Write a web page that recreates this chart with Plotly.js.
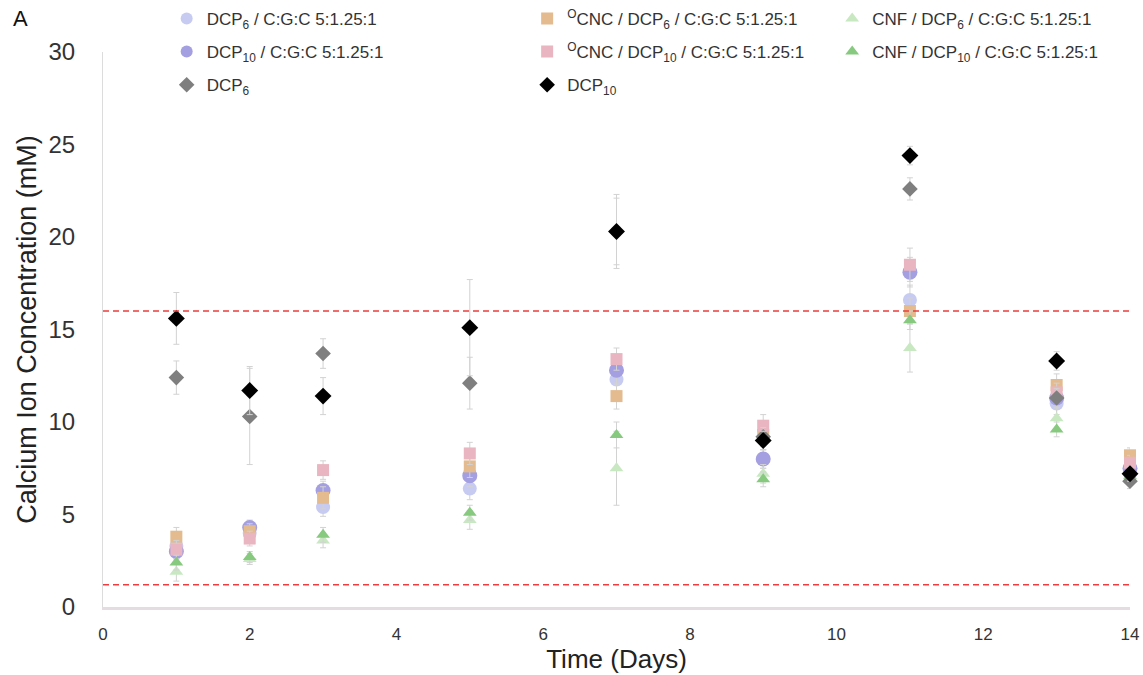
<!DOCTYPE html>
<html>
<head>
<meta charset="utf-8">
<script src="https://cdn.plot.ly/plotly-3.0.1.min.js"></script>
<style>html,body{margin:0;padding:0;background:#fff;}#chart{width:1143px;height:675px;}</style>
</head>
<body>
<div id="chart"></div>
<script>
// ---- data ----
const days = [1, 2, 3, 5, 7, 9, 11, 13, 14];

const dcp6_cgc      = [3.3, 4.0, 5.4, 6.4, 12.3, 8.0, 16.6, 11.0, 7.2];
const dcp6_cgc_err  = [0.5, 0.4, 0.5, 0.6, 1.0, 0.5, 0.8, 0.6, 0.5];

const dcp10_cgc     = [3.0, 4.3, 6.3, 7.1, 12.8, 8.0, 18.1, 11.3, 7.5];
const dcp10_cgc_err = [0.4, 0.4, 0.5, 0.6, 0.8, 0.5, 0.8, 0.6, 0.4];

const ocnc_dcp6     = [3.8, 4.1, 5.9, 7.6, 11.4, 9.3, 16.0, 12.0, 8.2];
const ocnc_dcp6_err = [0.5, 0.4, 0.6, 0.6, 0.7, 0.5, 0.7, 0.6, 0.4];

const ocnc_dcp10     = [3.1, 3.7, 7.4, 8.3, 13.4, 9.8, 18.5, 11.6, 7.8];
const ocnc_dcp10_err = [0.5, 0.4, 0.5, 0.6, 0.6, 0.6, 0.9, 0.5, 0.4];

const cnf_dcp6      = [1.9, 2.6, 3.6, 4.7, 7.5, 7.2, 14.0, 10.2, 7.0];
const cnf_dcp6_err  = [0.5, 0.3, 0.4, 0.5, 2.0, 0.5, 1.3, 0.6, 0.4];

const cnf_dcp10     = [2.4, 2.7, 3.9, 5.1, 9.3, 6.9, 15.5, 9.6, 7.1];
const cnf_dcp10_err = [0.4, 0.3, 0.4, 0.4, 0.7, 0.4, 0.5, 0.4, 0.3];

const dcp6          = [12.4, 10.3, 13.7, 12.1, 20.3, 9.2, 22.6, 11.3, 6.8];
const dcp6_err      = [0.9, 2.6, 0.8, 1.4, 1.8, 0.5, 0.6, 0.5, 0.4];

const dcp10         = [15.6, 11.7, 11.4, 15.1, 20.3, 9.0, 24.4, 13.3, 7.2];
const dcp10_err     = [1.4, 1.3, 1.0, 2.6, 2.0, 0.5, 0.5, 0.5, 0.4];

const limits = [16, 1.2];

const xTickVals = [0, 2, 4, 6, 8, 10, 12, 14];
const yTickVals = [0, 5, 10, 15, 20, 25, 30];

// ---- traces ----
const FONT = 'Liberation Sans, Arial, Helvetica, sans-serif';
function series(name, y, err, symbol, color, size, legend, rank, group) {
  return {
    type: 'scatter', mode: 'markers', x: days, y: y, name: name,
    legend: legend, legendrank: rank, legendgroup: group, cliponaxis: false,
    marker: {symbol: symbol, color: color, size: size, line: {width: 0}},
    error_y: {type: 'data', array: err, visible: true, color: '#d2d2d2', thickness: 1, width: 3}
  };
}

const traces = [
  series('DCP<sub>6</sub> / C:G:C 5:1.25:1', dcp6_cgc, dcp6_cgc_err, 'circle', '#c7cbf1', 14, 'legend', 1, 'g1'),
  series('DCP<sub>10</sub> / C:G:C 5:1.25:1', dcp10_cgc, dcp10_cgc_err, 'circle', '#a49fe0', 15, 'legend', 2, 'g2'),
  series('<sup>O</sup>CNC / DCP<sub>6</sub> / C:G:C 5:1.25:1', ocnc_dcp6, ocnc_dcp6_err, 'square', '#e3bb8e', 12, 'legend2', 1, 'g3'),
  series('<sup>O</sup>CNC / DCP<sub>10</sub> / C:G:C 5:1.25:1', ocnc_dcp10, ocnc_dcp10_err, 'square', '#e8b5c0', 12, 'legend2', 2, 'g4'),
  series('CNF / DCP<sub>6</sub> / C:G:C 5:1.25:1', cnf_dcp6, cnf_dcp6_err, 'triangle-up', '#c8e8c2', 12, 'legend3', 1, 'g5'),
  series('CNF / DCP<sub>10</sub> / C:G:C 5:1.25:1', cnf_dcp10, cnf_dcp10_err, 'triangle-up', '#86c97f', 12, 'legend3', 2, 'g6'),
  series('DCP<sub>6</sub>', dcp6, dcp6_err, 'diamond', '#7f7f7f', 12, 'legend', 3, 'g7'),
  series('DCP<sub>10</sub>', dcp10, dcp10_err, 'diamond', '#000000', 13, 'legend2', 3, 'g8')
];

const shapes = limits.map(v => ({
  type: 'line', xref: 'paper', x0: 0, x1: 1, yref: 'y', y0: v, y1: v,
  line: {color: '#f03c3c', width: 1.5, dash: '6px,4px'}
}));

function legendAt(x) {
  return {x: x, xanchor: 'left', y: 1.092, yanchor: 'top', orientation: 'v',
          bgcolor: 'rgba(0,0,0,0)', font: {family: FONT, size: 17, color: '#333'},
          tracegroupgap: 8, itemsizing: 'constant', itemclick: false};
}

const layout = {
  width: 1143, height: 675,
  margin: {l: 103, r: 13, t: 52, b: 68, autoexpand: false},
  paper_bgcolor: '#fff', plot_bgcolor: '#fff',
  font: {family: FONT, color: '#333'},
  showlegend: true,
  legend: legendAt(0.062),
  legend2: legendAt(0.413),
  legend3: legendAt(0.71),
  xaxis: {
    range: [0, 14], tickvals: xTickVals, showgrid: false, zeroline: false,
    showline: true, linecolor: '#e4dce0', linewidth: 2.5,
    ticks: 'outside', ticklen: 10, tickcolor: 'rgba(0,0,0,0)',
    tickfont: {family: FONT, size: 17, color: '#333'},
    title: {text: 'Time (Days)', font: {family: FONT, size: 26, color: '#222'}, standoff: 4}
  },
  yaxis: {
    range: [0, 30], tickvals: yTickVals, showgrid: false, zeroline: false,
    showline: true, linecolor: '#dcdcdc', linewidth: 1,
    ticks: 'outside', ticklen: 22, tickcolor: 'rgba(0,0,0,0)',
    tickfont: {family: FONT, size: 24, color: '#333'},
    title: {text: 'Calcium Ion Concentration (mM)', font: {family: FONT, size: 27, color: '#222'}, standoff: 4}
  },
  shapes: shapes,
  annotations: [{
    text: 'A', xref: 'paper', yref: 'paper', x: -0.09, y: 1.06, xanchor: 'left', yanchor: 'middle',
    showarrow: false, font: {family: FONT, size: 22, color: '#111'}
  }]
};

Plotly.newPlot('chart', traces, layout, {displayModeBar: false, staticPlot: true});
</script>
</body>
</html>
